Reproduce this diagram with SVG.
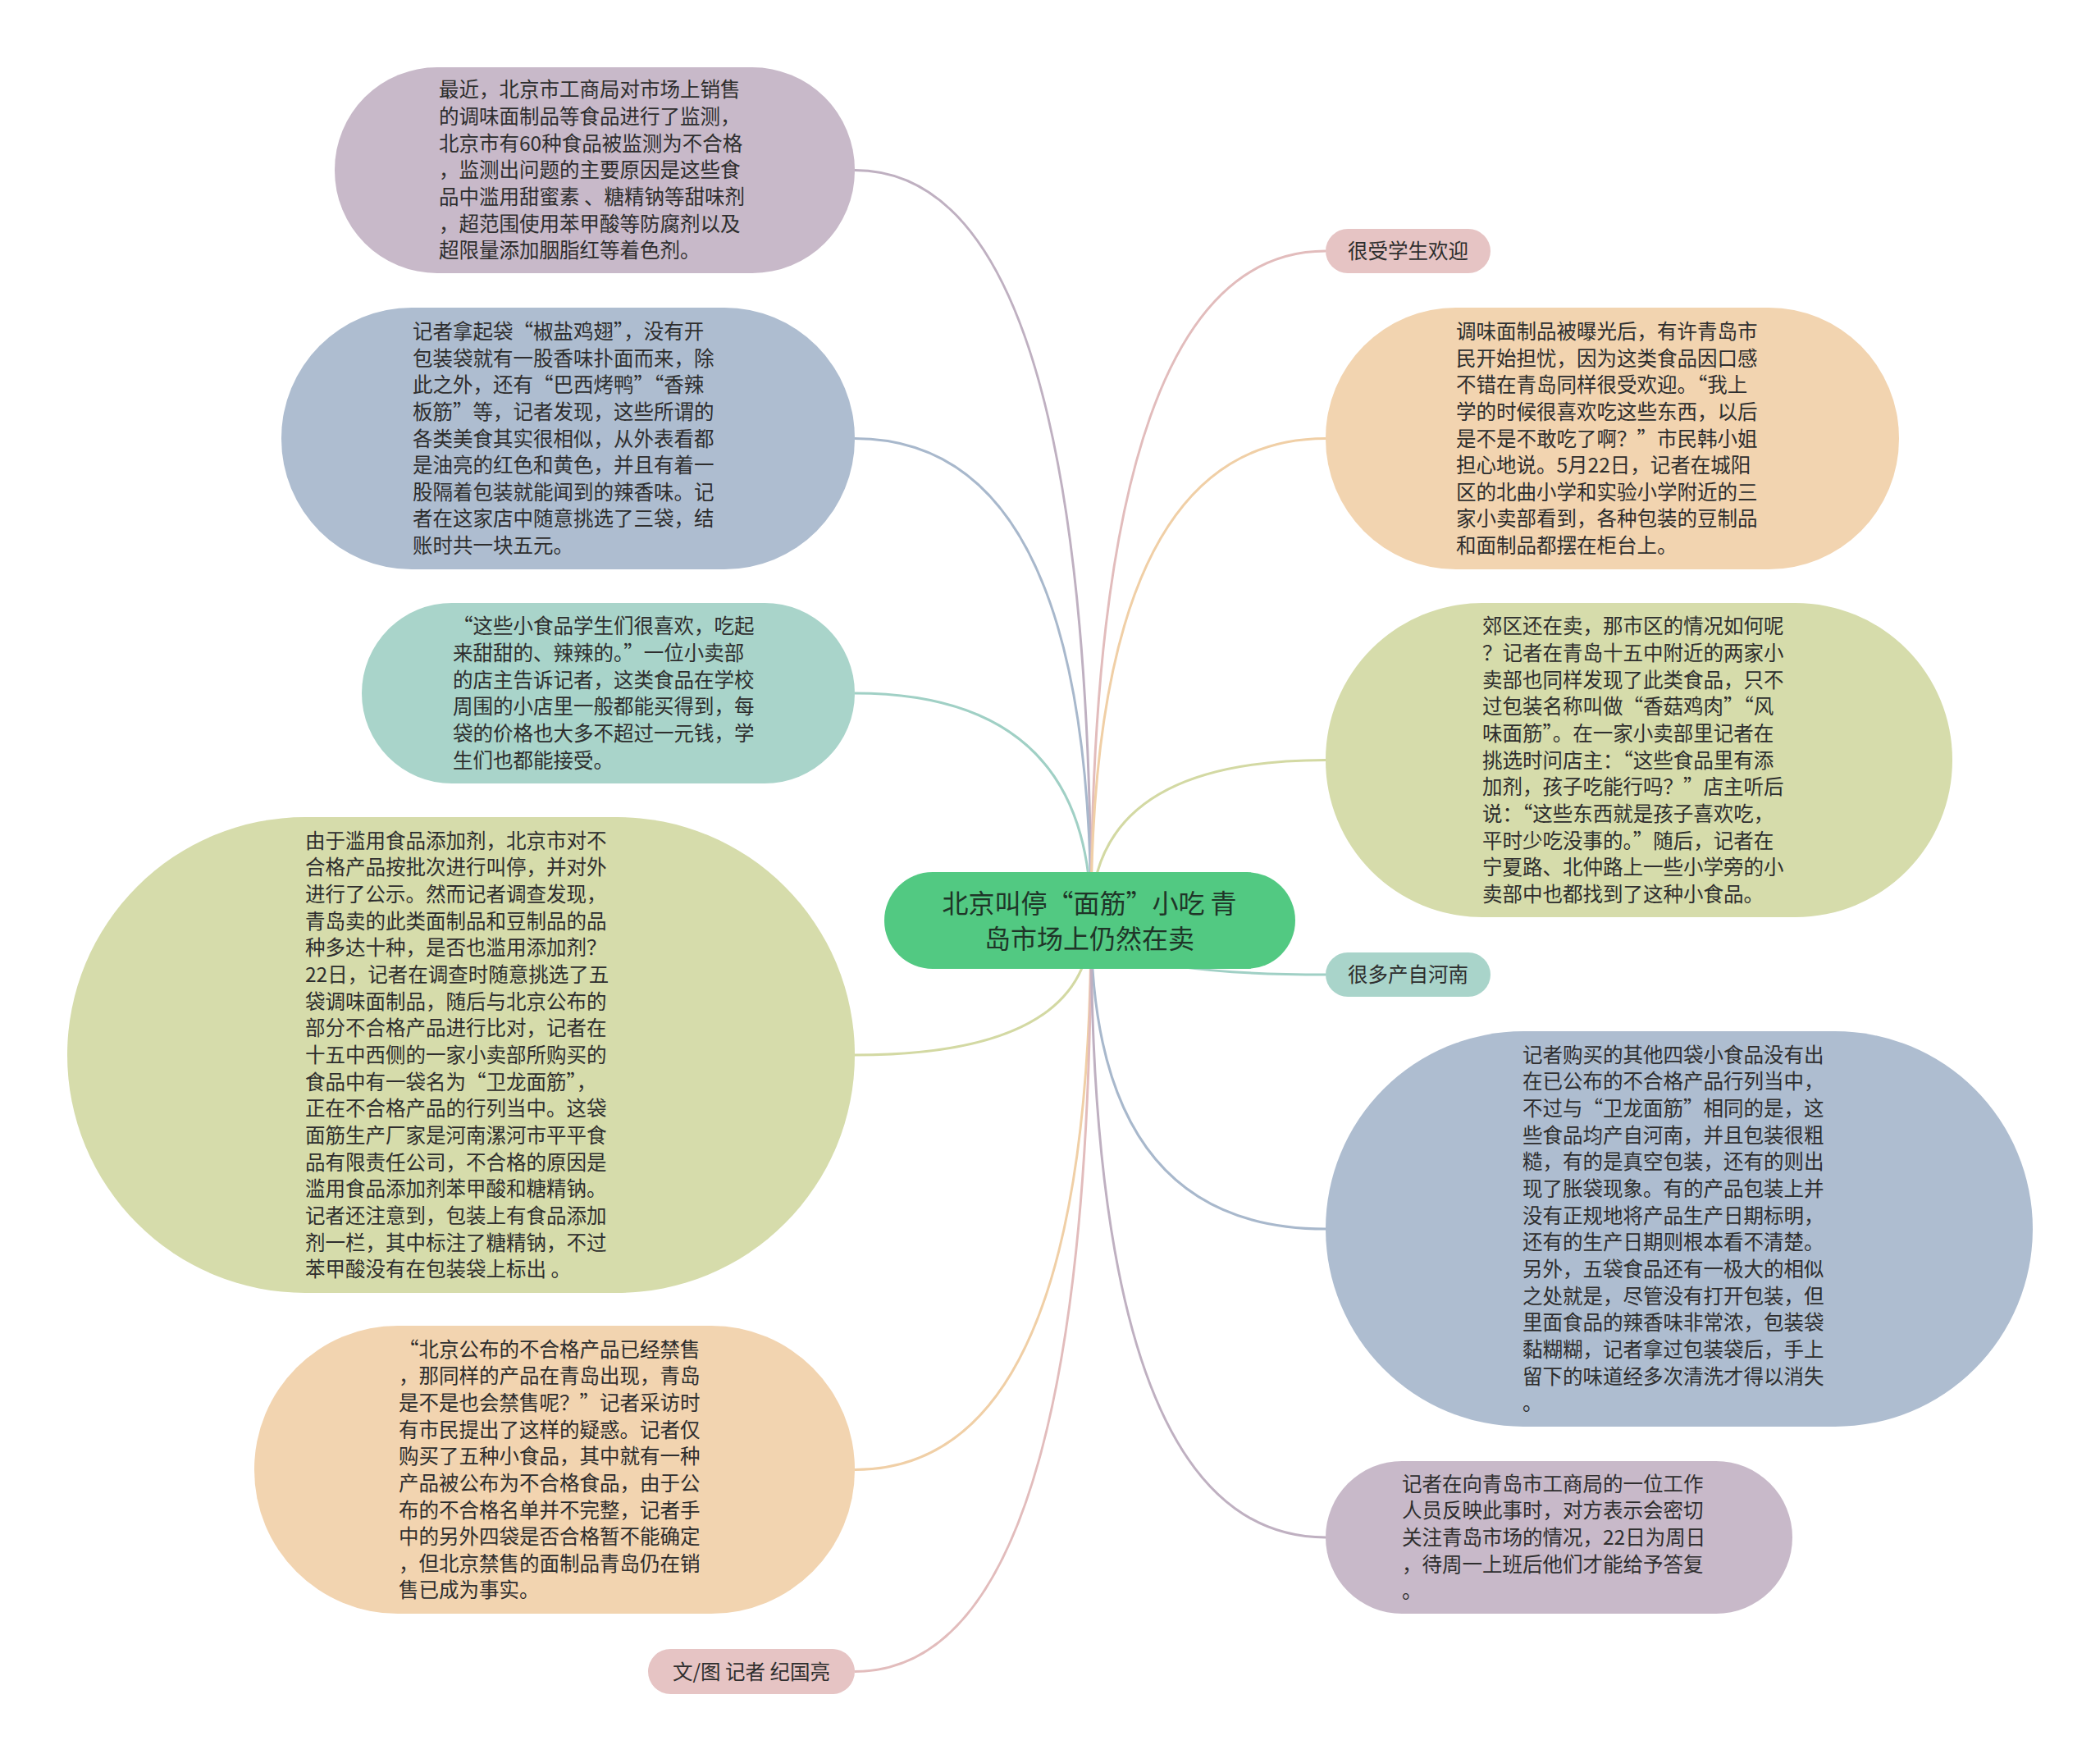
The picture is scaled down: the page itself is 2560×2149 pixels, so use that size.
<svg xmlns="http://www.w3.org/2000/svg" width="2560" height="2149" viewBox="0 0 2560 2149">
<style>
.t{font-family:"Noto Sans CJK SC","Noto Sans",sans-serif;font-size:24.5px;fill:#2e2e2e}
.c{font-family:"Noto Sans CJK SC","Noto Sans",sans-serif;font-size:32px;fill:#1f3528;text-anchor:middle}
.m{text-anchor:middle}
.ln{fill:none;stroke-width:3}
.pu{fill:#c8b9c9}.bl{fill:#aebdd0}.te{fill:#a9d4ca}.ol{fill:#d6dcab}.pe{fill:#f2d4b0}.pk{fill:#e6c4c4}.gr{fill:#52c982}
</style>
<rect width="2560" height="2149" fill="#ffffff"/>
<g id="connectors">
<path class="ln" stroke="#bfb0c1" d="M1330 1122 Q1330 207.5 1042 207.5"/>
<path class="ln" stroke="#a8b8cc" d="M1330 1122 Q1330 534.5 1042 534.5"/>
<path class="ln" stroke="#a0d0c5" d="M1330 1122 Q1330 845 1042 845"/>
<path class="ln" stroke="#d3d9a3" d="M1330 1122 Q1330 1286 1042 1286"/>
<path class="ln" stroke="#f0cfa6" d="M1330 1122 Q1330 1791.5 1042 1791.5"/>
<path class="ln" stroke="#e2bcbc" d="M1330 1122 Q1330 2037.5 1042 2037.5"/>
<path class="ln" stroke="#e2bcbc" d="M1330 1122 Q1330 306 1616 306"/>
<path class="ln" stroke="#f0cfa6" d="M1330 1122 Q1330 534.5 1616 534.5"/>
<path class="ln" stroke="#d3d9a3" d="M1330 1122 Q1330 926.5 1616 926.5"/>
<path class="ln" stroke="#a0d0c5" stroke-width="4" fill="none" d="M1330 1122 Q1330 1188 1616 1188"/>
<path class="ln" stroke="#a8b8cc" d="M1330 1122 Q1330 1498 1616 1498"/>
<path class="ln" stroke="#bfb0c1" d="M1330 1122 Q1330 1874 1616 1874"/>
</g>
<g id="center">
<rect class="gr" x="1078" y="1063" width="501" height="118" rx="59"/>
<text class="c" x="1328" y="1113">北京叫停“面筋”小吃 青</text>
<text class="c" x="1328" y="1156">岛市场上仍然在卖</text>
</g>
<g id="L1">
<rect class="pu" x="408" y="82" width="634" height="251" rx="125"/>
<text class="t" x="535"><tspan x="535" y="118.4">最近，北京市工商局对市场上销售</tspan><tspan x="535" y="151">的调味面制品等食品进行了监测，</tspan><tspan x="535" y="183.7">北京市有60种食品被监测为不合格</tspan><tspan x="535" y="216.3">，监测出问题的主要原因是这些食</tspan><tspan x="535" y="249">品中滥用甜蜜素 、糖精钠等甜味剂</tspan><tspan x="535" y="281.7">，超范围使用苯甲酸等防腐剂以及</tspan><tspan x="535" y="314.3">超限量添加胭脂红等着色剂。</tspan></text>
</g>
<g id="L2">
<rect class="bl" x="343" y="375" width="699" height="319" rx="159"/>
<text class="t"><tspan x="503" y="412.9">记者拿起袋“椒盐鸡翅”，没有开</tspan><tspan x="503" y="445.5">包装袋就有一股香味扑面而来，除</tspan><tspan x="503" y="478.2">此之外，还有“巴西烤鸭”“香辣</tspan><tspan x="503" y="510.8">板筋”等，记者发现，这些所谓的</tspan><tspan x="503" y="543.5">各类美食其实很相似，从外表看都</tspan><tspan x="503" y="576.1">是油亮的红色和黄色，并且有着一</tspan><tspan x="503" y="608.8">股隔着包装就能闻到的辣香味。记</tspan><tspan x="503" y="641.4">者在这家店中随意挑选了三袋，结</tspan><tspan x="503" y="674.1">账时共一块五元。</tspan></text>
</g>
<g id="L3">
<rect class="te" x="441" y="735" width="601" height="220" rx="110"/>
<text class="t"><tspan x="552" y="772.4">“这些小食品学生们很喜欢，吃起</tspan><tspan x="552" y="805">来甜甜的、辣辣的。”一位小卖部</tspan><tspan x="552" y="837.7">的店主告诉记者，这类食品在学校</tspan><tspan x="552" y="870.3">周围的小店里一般都能买得到，每</tspan><tspan x="552" y="903">袋的价格也大多不超过一元钱，学</tspan><tspan x="552" y="935.6">生们也都能接受。</tspan></text>
</g>
<g id="L4">
<rect class="ol" x="82" y="996" width="960" height="580" rx="290"/>
<text class="t"><tspan x="372" y="1033.8">由于滥用食品添加剂，北京市对不</tspan><tspan x="372" y="1066.4">合格产品按批次进行叫停，并对外</tspan><tspan x="372" y="1099.1">进行了公示。然而记者调查发现，</tspan><tspan x="372" y="1131.7">青岛卖的此类面制品和豆制品的品</tspan><tspan x="372" y="1164.4">种多达十种，是否也滥用添加剂？</tspan><tspan x="372" y="1197">22日，记者在调查时随意挑选了五</tspan><tspan x="372" y="1229.7">袋调味面制品，随后与北京公布的</tspan><tspan x="372" y="1262.3">部分不合格产品进行比对，记者在</tspan><tspan x="372" y="1295">十五中西侧的一家小卖部所购买的</tspan><tspan x="372" y="1327.6">食品中有一袋名为“卫龙面筋”，</tspan><tspan x="372" y="1360.3">正在不合格产品的行列当中。这袋</tspan><tspan x="372" y="1392.9">面筋生产厂家是河南漯河市平平食</tspan><tspan x="372" y="1425.6">品有限责任公司，不合格的原因是</tspan><tspan x="372" y="1458.2">滥用食品添加剂苯甲酸和糖精钠。</tspan><tspan x="372" y="1490.9">记者还注意到，包装上有食品添加</tspan><tspan x="372" y="1523.5">剂一栏，其中标注了糖精钠，不过</tspan><tspan x="372" y="1556.2">苯甲酸没有在包装袋上标出 。</tspan></text>
</g>
<g id="L5">
<rect class="pe" x="310" y="1616" width="732" height="351" rx="175"/>
<text class="t"><tspan x="486" y="1653.6">“北京公布的不合格产品已经禁售</tspan><tspan x="486" y="1686.2">，那同样的产品在青岛出现，青岛</tspan><tspan x="486" y="1718.9">是不是也会禁售呢？”记者采访时</tspan><tspan x="486" y="1751.5">有市民提出了这样的疑惑。记者仅</tspan><tspan x="486" y="1784.2">购买了五种小食品，其中就有一种</tspan><tspan x="486" y="1816.8">产品被公布为不合格食品，由于公</tspan><tspan x="486" y="1849.5">布的不合格名单并不完整，记者手</tspan><tspan x="486" y="1882.1">中的另外四袋是否合格暂不能确定</tspan><tspan x="486" y="1914.8">，但北京禁售的面制品青岛仍在销</tspan><tspan x="486" y="1947.4">售已成为事实。</tspan></text>
</g>
<g id="L6">
<rect class="pk" x="790" y="2010" width="252" height="55" rx="27.5"/>
<text class="t m" x="916" y="2046.5">文/图 记者 纪国亮</text>
</g>
<g id="R1">
<rect class="pk" x="1616" y="279" width="201" height="54" rx="27"/>
<text class="t m" x="1716.5" y="315">很受学生欢迎</text>
</g>
<g id="R2">
<rect class="pe" x="1616" y="375" width="699" height="319" rx="159"/>
<text class="t"><tspan x="1775" y="412.9">调味面制品被曝光后，有许青岛市</tspan><tspan x="1775" y="445.5">民开始担忧，因为这类食品因口感</tspan><tspan x="1775" y="478.2">不错在青岛同样很受欢迎。“我上</tspan><tspan x="1775" y="510.8">学的时候很喜欢吃这些东西，以后</tspan><tspan x="1775" y="543.5">是不是不敢吃了啊？”市民韩小姐</tspan><tspan x="1775" y="576.1">担心地说。5月22日，记者在城阳</tspan><tspan x="1775" y="608.8">区的北曲小学和实验小学附近的三</tspan><tspan x="1775" y="641.4">家小卖部看到，各种包装的豆制品</tspan><tspan x="1775" y="674.1">和面制品都摆在柜台上。</tspan></text>
</g>
<g id="R3">
<rect class="ol" x="1616" y="735" width="764" height="383" rx="191"/>
<text class="t"><tspan x="1807" y="772.3">郊区还在卖，那市区的情况如何呢</tspan><tspan x="1807" y="804.9">？记者在青岛十五中附近的两家小</tspan><tspan x="1807" y="837.6">卖部也同样发现了此类食品，只不</tspan><tspan x="1807" y="870.2">过包装名称叫做“香菇鸡肉”“风</tspan><tspan x="1807" y="902.9">味面筋”。在一家小卖部里记者在</tspan><tspan x="1807" y="935.5">挑选时问店主：“这些食品里有添</tspan><tspan x="1807" y="968.2">加剂，孩子吃能行吗？”店主听后</tspan><tspan x="1807" y="1000.8">说：“这些东西就是孩子喜欢吃，</tspan><tspan x="1807" y="1033.5">平时少吃没事的。”随后，记者在</tspan><tspan x="1807" y="1066.1">宁夏路、北仲路上一些小学旁的小</tspan><tspan x="1807" y="1098.8">卖部中也都找到了这种小食品。</tspan></text>
</g>
<g id="R4">
<rect class="te" x="1616" y="1161" width="201" height="54" rx="27"/>
<text class="t m" x="1716.5" y="1197">很多产自河南</text>
</g>
<g id="R5">
<rect class="bl" x="1616" y="1257" width="862" height="482" rx="241"/>
<text class="t"><tspan x="1856" y="1294.8">记者购买的其他四袋小食品没有出</tspan><tspan x="1856" y="1327.4">在已公布的不合格产品行列当中，</tspan><tspan x="1856" y="1360.1">不过与“卫龙面筋”相同的是，这</tspan><tspan x="1856" y="1392.7">些食品均产自河南，并且包装很粗</tspan><tspan x="1856" y="1425.4">糙，有的是真空包装，还有的则出</tspan><tspan x="1856" y="1458">现了胀袋现象。有的产品包装上并</tspan><tspan x="1856" y="1490.7">没有正规地将产品生产日期标明，</tspan><tspan x="1856" y="1523.3">还有的生产日期则根本看不清楚。</tspan><tspan x="1856" y="1556">另外，五袋食品还有一极大的相似</tspan><tspan x="1856" y="1588.6">之处就是，尽管没有打开包装，但</tspan><tspan x="1856" y="1621.3">里面食品的辣香味非常浓，包装袋</tspan><tspan x="1856" y="1653.9">黏糊糊，记者拿过包装袋后，手上</tspan><tspan x="1856" y="1686.6">留下的味道经多次清洗才得以消失</tspan><tspan x="1856" y="1719.2">。</tspan></text>
</g>
<g id="R6">
<rect class="pu" x="1616" y="1781" width="569" height="186" rx="93"/>
<text class="t"><tspan x="1709" y="1817.7">记者在向青岛市工商局的一位工作</tspan><tspan x="1709" y="1850.3">人员反映此事时，对方表示会密切</tspan><tspan x="1709" y="1883">关注青岛市场的情况，22日为周日</tspan><tspan x="1709" y="1915.6">，待周一上班后他们才能给予答复</tspan><tspan x="1709" y="1948.3">。</tspan></text>
</g>
</svg>
